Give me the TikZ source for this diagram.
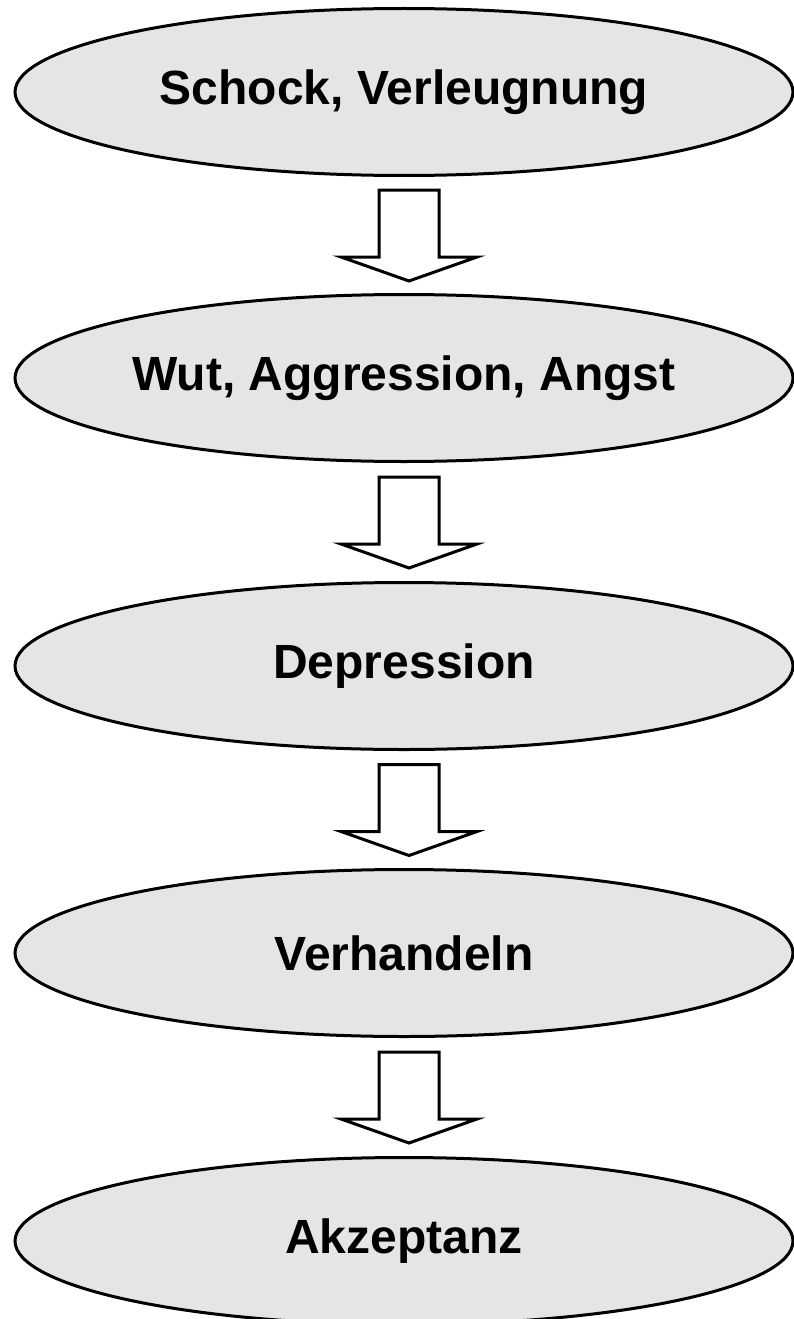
\documentclass[tikz,border=0pt]{standalone}
\usepackage{fontspec}
\setmainfont{Liberation Sans}
\usepackage{xcolor}
\usetikzlibrary{shapes.geometric}
\definecolor{lightg}{rgb}{0.9,0.9,0.9}
\tikzset{stage/.style={ellipse,draw=black,fill=lightg,line width=3pt,inner sep=0pt,
    minimum width=778pt,minimum height=167pt,font=\bfseries\fontsize{48}{58}\selectfont},
  down/.style={draw=black,fill=white,line width=3pt}}

\begin{document}
\begin{tikzpicture}[x=1pt,y=-1pt]
\useasboundingbox (0,0) rectangle (794,1319);
  \node[stage] (1) at (404,92)   {Schock, Verleugnung};
  \node[stage] (2) at (404,378)  {Wut, Aggression, Angst};
  \node[stage] (3) at (404,666)  {Depression};
  \node[stage] (4) at (404,953)  {Verhandeln};
  \node[stage] (5) at (404,1241) {Akzeptanz};
\path (1) -- (2) coordinate[midway,xshift=5pt] (6);
\path (2) -- (3) coordinate[midway,xshift=5pt] (7);
\path (3) -- (4) coordinate[midway,xshift=5pt] (8);
\path (4) -- (5) coordinate[midway,xshift=5pt] (9);
\draw[down] (6) ++(-30,-45) -- ++(60,0) -- ++(0,67) -- ++(38,0) -- ++(-68,24) -- ++(-68,-24) -- ++(38,0) -- cycle;
\draw[down] (7) ++(-30,-45) -- ++(60,0) -- ++(0,67) -- ++(38,0) -- ++(-68,24) -- ++(-68,-24) -- ++(38,0) -- cycle;
\draw[down] (8) ++(-30,-45) -- ++(60,0) -- ++(0,67) -- ++(38,0) -- ++(-68,24) -- ++(-68,-24) -- ++(38,0) -- cycle;
\draw[down] (9) ++(-30,-45) -- ++(60,0) -- ++(0,67) -- ++(38,0) -- ++(-68,24) -- ++(-68,-24) -- ++(38,0) -- cycle;
\end{tikzpicture}
\end{document}
